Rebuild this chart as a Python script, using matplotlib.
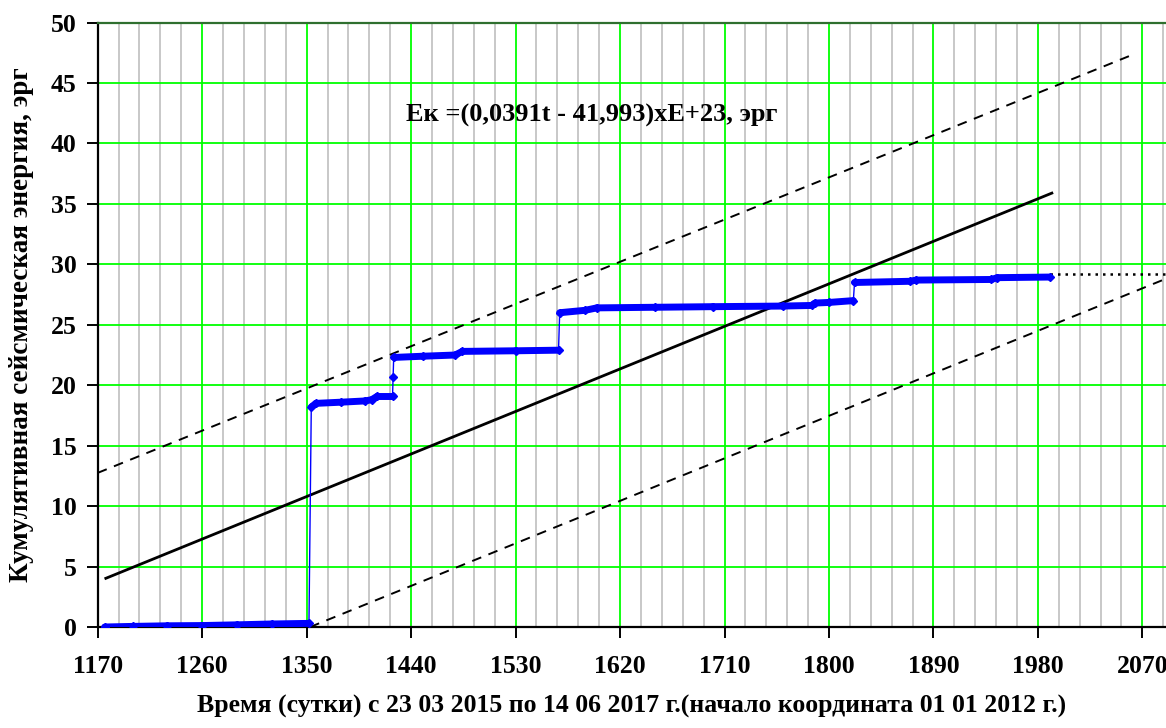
import numpy as np
import matplotlib
matplotlib.use('Agg')
import matplotlib.pyplot as plt
from matplotlib.ticker import MultipleLocator

plt.rcParams['font.family'] = ['Liberation Serif', 'DejaVu Serif']
plt.rcParams['font.weight'] = 'bold'

# ── Data ──────────────────────────────────────────────────────────────────────
days = [1176, 1200, 1230, 1260, 1290, 1320, 1352,
        1354, 1358, 1380, 1400, 1406, 1411, 1424,
        1424.5, 1425, 1450, 1478, 1484, 1530, 1567,
        1568, 1590, 1600, 1650, 1700, 1760, 1785,
        1788, 1800, 1821, 1822, 1870, 1875, 1940, 1945, 1990]
energy = [0.0, 0.05, 0.1, 0.12, 0.18, 0.25, 0.3,
          18.2, 18.5, 18.6, 18.7, 18.8, 19.1, 19.1,
          20.7, 22.3, 22.4, 22.5, 22.8, 22.85, 22.9,
          26.0, 26.2, 26.4, 26.45, 26.5, 26.55, 26.6,
          26.8, 26.85, 27.0, 28.5, 28.6, 28.7, 28.75, 28.9, 28.95]

trend_days = [1177, 1992]
trend_a, trend_b = 0.0391, -41.993          # Ek = (0,0391t - 41,993)

upper_days = [1170, 2063]
upper_vals = [12.75, 47.4]
lower_days = [1353, 2090]
lower_vals = [0.0, 28.8]

tail_days = [1990, 2090]
tail_vals = [29.2, 29.2]

# ── Figure ────────────────────────────────────────────────────────────────────
W, H = 1166, 728
fig = plt.figure(figsize=(W / 100, H / 100), dpi=100)
ax = fig.add_axes([97.7 / W, 101 / H, (1165.6 - 97.7) / W, 604.4 / H])

ax.set_xlim(1170, 2090)
ax.set_ylim(0, 50)
ax.xaxis.set_major_locator(MultipleLocator(90))
ax.xaxis.set_minor_locator(MultipleLocator(18))
ax.yaxis.set_major_locator(MultipleLocator(5))

ax.grid(True, which='minor', axis='x', color='#c8c8c8', lw=1.4, zorder=0)
ax.grid(True, which='major', axis='both', color='#00ff00', lw=1.3, zorder=1)
ax.set_axisbelow(True)

# trend and confidence band
td = np.array(trend_days, dtype=float)
ax.plot(td, trend_a * td + trend_b, color='black', lw=2.0, zorder=3)
ax.plot(upper_days, upper_vals, color='black', lw=1.4, ls=(0, (5, 4)), zorder=3)
ax.plot(lower_days, lower_vals, color='black', lw=1.4, ls=(0, (5, 4)), zorder=3)
ax.plot(tail_days, tail_vals, color='black', lw=1.8, ls=(0, (1, 2)), zorder=3)

# cumulative energy: thin line + thick plateaus + markers
d = np.array(days, dtype=float)
e = np.array(energy, dtype=float)
ax.plot(d, e, color='#0000ff', lw=1.0, zorder=4)
for i in range(len(d) - 1):
    if abs(e[i + 1] - e[i]) < 1.0:
        ax.plot(d[i:i + 2], e[i:i + 2], color='#0000ff', lw=5,
                solid_capstyle='round', zorder=4)
ax.plot(d, e, ls='none', marker='D', ms=4.5, color='#0000ff', zorder=5)

ax.text(1436, 42.3, 'Eк =(0,0391t - 41,993)xE+23, эрг', fontsize=19,
        fontweight='bold', ha='left', va='center', zorder=6)

# axes cosmetics
ax.spines['right'].set_visible(False)
ax.spines['top'].set_color('#2f6f2f')
ax.spines['top'].set_linewidth(1.6)
ax.spines['left'].set_linewidth(1.6)
ax.spines['bottom'].set_linewidth(1.6)
ax.tick_params(axis='x', which='major', direction='out', length=8, width=1.4,
               pad=12, labelsize=18.5)
ax.tick_params(axis='x', which='minor', length=0)
ax.tick_params(axis='y', direction='out', length=8, width=1.4, pad=7,
               labelsize=18.5)
for lab in ax.get_xticklabels() + ax.get_yticklabels():
    lab.set_fontweight('bold')

ax.set_xlabel('Время (сутки) с 23 03 2015 по 14 06 2017 г.(начало координата 01 01 2012 г.)',
              fontsize=18.5, fontweight='bold', labelpad=12)
ax.set_ylabel('Кумулятивная сейсмическая энергия, эрг', fontsize=19.5,
              fontweight='bold', labelpad=12)

fig.savefig('out.png', dpi=100)
